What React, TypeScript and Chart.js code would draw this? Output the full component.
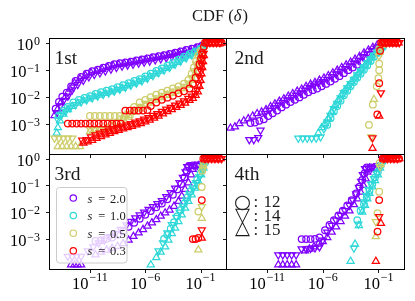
import { useEffect, useRef } from "react";
import { Chart, registerables } from "chart.js";

Chart.register(...registerables);

type Pt = [number, number]; // [log10 delta, log10 CDF]

// ---------------- axes ----------------
const X_LOG_MIN = -14.7;
const X_LOG_MAX = 1.3;
const Y_LOG_MIN = -4.13;
const Y_LOG_MAX = 0.175;
const X_TICK_EXPONENTS = [-11, -6, -1];
const Y_TICK_EXPONENTS = [0, -1, -2, -3];

const PANEL_NAMES = ["1st", "2nd", "3rd", "4th"];
const S_VALUES = ["2.0", "1.0", "0.5", "0.3"];
const MARKER_LABELS = ["12", "14", "15"];
const SERIES_COLORS = ["#7f00ff", "#2fd8d8", "#cdcd6a", "#ff0000"];

// ---------------- panel 1 ----------------
const P1_S20_CIRCLE: Pt[] = [[-14.1,-2.45],[-13.8,-2.2],[-13.5,-2.0],[-13.1,-1.85],[-12.7,-1.62],[-12.3,-1.42],[-11.8,-1.27],[-11.3,-1.15],[-10.8,-1.06],[-10.3,-1.0],[-9.8,-0.93],[-9.3,-0.86],[-8.8,-0.8],[-8.3,-0.76],[-7.8,-0.73],[-7.3,-0.7],[-6.8,-0.66],[-6.3,-0.62],[-5.8,-0.58],[-5.3,-0.54],[-4.8,-0.5],[-4.3,-0.46],[-3.8,-0.42],[-3.3,-0.37],[-2.8,-0.32],[-2.3,-0.27],[-1.8,-0.22],[-1.3,-0.17],[-0.9,-0.12],[-0.5,0]];
const P1_S20_DOWN: Pt[] = [[-14.0,-2.6],[-13.7,-2.35],[-13.4,-2.15],[-13.0,-1.98],[-12.6,-1.75],[-12.1,-1.55],[-11.6,-1.4],[-11.1,-1.27],[-10.6,-1.18],[-10.1,-1.12],[-9.6,-1.05],[-9.1,-0.98],[-8.6,-0.92],[-8.1,-0.87],[-7.6,-0.83],[-7.1,-0.8],[-6.6,-0.76],[-6.1,-0.72],[-5.6,-0.68],[-5.1,-0.64],[-4.6,-0.6],[-4.1,-0.56],[-3.6,-0.51],[-3.1,-0.46],[-2.6,-0.41],[-2.1,-0.36],[-1.6,-0.3],[-1.1,-0.23],[-0.7,-0.15]];
const P1_S20_UP: Pt[] = [[-14.2,-2.7],[-13.9,-2.45],[-13.6,-2.2],[-13.2,-2.0],[-12.8,-1.72],[-12.4,-1.5],[-11.9,-1.34],[-11.4,-1.22],[-10.9,-1.12],[-10.4,-1.06],[-9.9,-0.99],[-9.4,-0.92],[-8.9,-0.86],[-8.4,-0.81],[-7.9,-0.78],[-7.4,-0.75],[-6.9,-0.71],[-6.4,-0.67],[-5.9,-0.63],[-5.4,-0.59],[-4.9,-0.55],[-4.4,-0.51],[-3.9,-0.47],[-3.4,-0.42],[-2.9,-0.37],[-2.4,-0.32],[-1.9,-0.27],[-1.4,-0.21],[-1.0,-0.15]];

const P1_S10_CIRCLE: Pt[] = [[-13.8,-2.7],[-13.4,-2.52],[-13.0,-2.38],[-12.5,-2.22],[-12.0,-2.12],[-11.5,-2.05],[-11.0,-1.98],[-10.5,-1.9],[-10.0,-1.84],[-9.5,-1.78],[-9.0,-1.72],[-8.5,-1.65],[-8.0,-1.58],[-7.5,-1.5],[-7.0,-1.42],[-6.5,-1.35],[-6.0,-1.25],[-5.5,-1.15],[-5.0,-1.05],[-4.5,-0.95],[-4.0,-0.85],[-3.5,-0.75],[-3.0,-0.63],[-2.5,-0.52],[-2.0,-0.42],[-1.5,-0.32],[-1.0,-0.22],[-0.7,-0.12]];
const P1_S10_DOWN: Pt[] = [[-13.9,-2.85],[-13.6,-2.7],[-13.2,-2.55],[-12.8,-2.42],[-12.3,-2.3],[-11.8,-2.2],[-11.3,-2.12],[-10.8,-2.05],[-10.3,-1.98],[-9.8,-1.92],[-9.3,-1.86],[-8.8,-1.8],[-8.3,-1.73],[-7.8,-1.66],[-7.3,-1.58],[-6.8,-1.5],[-6.3,-1.42],[-5.8,-1.32],[-5.3,-1.22],[-4.8,-1.12],[-4.3,-1.02],[-3.8,-0.92],[-3.3,-0.8],[-2.8,-0.68],[-2.3,-0.56],[-1.8,-0.45],[-1.3,-0.34],[-0.9,-0.22]];
const P1_S10_UP: Pt[] = [[-14.0,-3.35],[-13.9,-3.15],[-13.7,-2.9],[-13.4,-2.65],[-13.0,-2.48],[-12.6,-2.36],[-12.1,-2.24],[-11.6,-2.15],[-11.1,-2.08],[-10.6,-2.0],[-10.1,-1.94],[-9.6,-1.88],[-9.1,-1.82],[-8.6,-1.75],[-8.1,-1.68],[-7.6,-1.6],[-7.1,-1.52],[-6.6,-1.44],[-6.1,-1.35],[-5.6,-1.25],[-5.1,-1.15],[-4.6,-1.05],[-4.1,-0.95],[-3.6,-0.85],[-3.1,-0.73],[-2.6,-0.6],[-2.1,-0.49],[-1.6,-0.38],[-1.1,-0.28],[-0.8,-0.18]];

const P1_S05_CIRCLE: Pt[] = [[-11.0,-2.72],[-10.55,-2.72],[-10.1,-2.72],[-9.65,-2.72],[-9.2,-2.72],[-8.75,-2.72],[-8.3,-2.72],[-7.85,-2.72],[-7.4,-2.72],[-7.0,-2.38],[-6.5,-2.22],[-6.0,-2.12],[-5.5,-2.02],[-5.0,-1.93],[-4.5,-1.85],[-4.0,-1.78],[-3.5,-1.7],[-3.0,-1.62],[-2.5,-1.52],[-2.1,-1.38],[-1.8,-1.15],[-1.6,-0.92],[-1.4,-0.68],[-1.2,-0.48],[-0.95,-0.3],[-0.7,-0.15]];
const P1_S05_DOWN: Pt[] = [[-14.2,-3.54],[-13.8,-3.54],[-13.4,-3.54],[-13.0,-3.54],[-12.6,-3.54],[-11.0,-3.2],[-10.6,-3.2],[-10.2,-3.2],[-9.8,-3.2],[-9.4,-3.2],[-9.0,-3.18],[-8.6,-3.1],[-8.0,-2.8],[-7.5,-2.62],[-7.0,-2.48],[-6.5,-2.36],[-6.0,-2.25],[-5.5,-2.15],[-5.0,-2.05],[-4.5,-1.96],[-4.0,-1.88],[-3.5,-1.8],[-3.0,-1.72],[-2.5,-1.62],[-2.1,-1.5],[-1.8,-1.3],[-1.6,-1.05],[-1.4,-0.8],[-1.2,-0.55],[-1.0,-0.35]];
const P1_S05_UP: Pt[] = [[-13.9,-3.85],[-13.5,-3.85],[-13.1,-3.85],[-12.7,-3.85],[-12.3,-3.85],[-11.9,-3.85],[-11.0,-3.3],[-10.5,-3.25],[-10.0,-3.2],[-9.5,-3.15],[-9.0,-3.08],[-8.5,-2.95],[-8.0,-2.82],[-7.5,-2.7],[-7.0,-2.57],[-6.5,-2.45],[-6.0,-2.34],[-5.5,-2.24],[-5.0,-2.13],[-4.5,-2.04],[-4.0,-1.95],[-3.5,-1.88],[-3.0,-1.8],[-2.5,-1.7],[-2.0,-1.58],[-1.7,-1.4],[-1.5,-1.15],[-1.3,-0.9],[-1.1,-0.62],[-0.9,-0.4]];

const P1_S03_CIRCLE: Pt[] = [[-13.0,-3.0],[-12.6,-3.0],[-12.2,-3.0],[-11.8,-3.0],[-11.4,-3.0],[-11.0,-3.0],[-10.6,-3.0],[-10.2,-3.0],[-9.8,-3.0],[-9.4,-3.0],[-9.0,-3.0],[-8.6,-3.0],[-8.2,-3.0],[-7.8,-2.52],[-7.4,-2.52],[-7.0,-2.52],[-6.6,-2.52],[-6.2,-2.52],[-5.8,-2.5],[-5.5,-2.35],[-5.0,-2.22],[-4.5,-2.12],[-4.0,-2.04],[-3.5,-1.97],[-3.0,-1.88],[-2.5,-1.8],[-2.0,-1.7],[-1.7,-1.52],[-1.45,-1.3],[-1.25,-1.05],[-1.1,-0.8],[-0.95,-0.58],[-0.85,-0.38],[-0.7,-0.15],[-0.6,0],[-0.3,0],[0.0,0],[0.3,0],[0.6,0],[0.9,0]];
const P1_S03_DOWN: Pt[] = [[-11.7,-3.62],[-11.3,-3.6],[-10.9,-3.5],[-10.5,-3.42],[-10.1,-3.36],[-9.7,-3.3],[-9.3,-3.25],[-8.9,-3.2],[-8.5,-3.15],[-8.1,-3.1],[-7.7,-3.05],[-7.3,-3.0],[-6.9,-2.95],[-6.5,-2.9],[-6.1,-2.84],[-5.7,-2.78],[-5.3,-2.7],[-4.9,-2.63],[-4.5,-2.55],[-4.1,-2.47],[-3.7,-2.4],[-3.3,-2.32],[-2.9,-2.24],[-2.5,-2.16],[-2.1,-2.07],[-1.8,-1.98],[-1.5,-1.88],[-1.3,-1.75],[-1.15,-1.55],[-1.05,-1.3],[-0.95,-1.05],[-0.88,-0.82],[-0.8,-0.6],[-0.72,-0.4],[-0.45,0],[-0.15,0],[0.15,0],[0.45,0],[0.75,0]];
const P1_S03_UP: Pt[] = [[-11.6,-3.72],[-11.2,-3.68],[-10.8,-3.62],[-10.4,-3.55],[-10.0,-3.48],[-9.6,-3.42],[-9.2,-3.36],[-8.8,-3.3],[-8.4,-3.25],[-8.0,-3.2],[-7.6,-3.15],[-7.2,-3.1],[-6.8,-3.05],[-6.4,-3.0],[-6.0,-2.94],[-5.6,-2.87],[-5.2,-2.8],[-4.8,-2.72],[-4.4,-2.64],[-4.0,-2.56],[-3.6,-2.48],[-3.2,-2.4],[-2.8,-2.32],[-2.4,-2.24],[-2.0,-2.14],[-1.7,-2.06],[-1.45,-1.95],[-1.25,-1.82],[-1.1,-1.62],[-1.0,-1.4],[-0.92,-1.15],[-0.85,-0.92],[-0.78,-0.7],[-0.7,-0.48],[-0.55,0],[-0.25,0],[0.05,0],[0.35,0],[0.65,0],[0.9,0]];

// ---------------- panel 2 ----------------
const P2_S20_CIRCLE: Pt[] = [[-12.5,-2.98],[-12.1,-2.96],[-11.7,-2.9],[-11.3,-2.84],[-10.9,-2.72],[-10.5,-2.62],[-10.1,-2.52],[-9.7,-2.4],[-9.3,-2.3],[-8.9,-2.2],[-8.5,-2.12],[-8.1,-2.03],[-7.7,-1.93],[-7.3,-1.84],[-6.9,-1.76],[-6.5,-1.7],[-6.1,-1.62],[-5.7,-1.53],[-5.3,-1.44],[-4.9,-1.34],[-4.5,-1.24],[-4.1,-1.13],[-3.7,-1.02],[-3.3,-0.92],[-2.9,-0.82],[-2.5,-0.72],[-2.1,-0.58],[-1.7,-0.44],[-1.3,-0.32],[-1.0,-0.2],[-0.7,-0.1]];
const P2_S20_DOWN: Pt[] = [[-12.6,-3.6],[-12.2,-3.6],[-11.8,-3.52],[-11.6,-3.25],[-11.2,-2.62],[-10.8,-2.5],[-10.4,-2.42],[-10.0,-2.32],[-9.6,-2.22],[-9.2,-2.12],[-8.8,-2.03],[-8.4,-1.95],[-8.0,-1.86],[-7.6,-1.76],[-7.2,-1.66],[-6.8,-1.58],[-6.4,-1.5],[-6.0,-1.45],[-5.6,-1.36],[-5.2,-1.26],[-4.8,-1.16],[-4.4,-1.06],[-4.0,-0.96],[-3.6,-0.86],[-3.2,-0.76],[-2.8,-0.65],[-2.4,-0.52],[-2.0,-0.42],[-1.6,-0.3],[-1.2,-0.2],[-0.9,-0.14]];
const P2_S20_UP: Pt[] = [[-14.3,-3.17],[-13.9,-3.12],[-13.5,-3.0],[-13.1,-2.9],[-12.7,-2.82],[-12.3,-2.72],[-11.9,-2.63],[-11.5,-2.57],[-11.1,-2.48],[-10.7,-2.37],[-10.3,-2.27],[-9.9,-2.17],[-9.5,-2.08],[-9.1,-1.98],[-8.7,-1.89],[-8.3,-1.8],[-7.9,-1.72],[-7.5,-1.62],[-7.1,-1.54],[-6.7,-1.47],[-6.3,-1.39],[-5.9,-1.31],[-5.5,-1.22],[-5.1,-1.12],[-4.7,-1.02],[-4.3,-0.92],[-3.9,-0.82],[-3.5,-0.72],[-3.1,-0.61],[-2.7,-0.51],[-2.3,-0.38],[-1.9,-0.27],[-1.5,-0.17],[-1.1,-0.08]];

const P2_S10_CIRCLE: Pt[] = [[-5.6,-3.05],[-5.3,-2.8],[-5.0,-2.55],[-4.7,-2.35],[-4.4,-2.15],[-4.1,-1.95],[-3.8,-1.78],[-3.5,-1.62],[-3.2,-1.46],[-2.9,-1.3],[-2.6,-1.15],[-2.3,-1.0],[-2.0,-0.85],[-1.7,-0.68],[-1.4,-0.52],[-1.1,-0.38],[-0.8,-0.25],[-0.6,-0.15]];
const P2_S10_DOWN: Pt[] = [[-8.2,-3.54],[-7.8,-3.54],[-7.4,-3.54],[-7.0,-3.54],[-6.6,-3.54],[-6.2,-3.5],[-5.9,-3.2],[-5.6,-2.95],[-5.3,-2.7],[-5.0,-2.45],[-4.7,-2.25],[-4.4,-2.05],[-4.1,-1.85],[-3.8,-1.68],[-3.5,-1.52],[-3.2,-1.36],[-2.9,-1.2],[-2.6,-1.05],[-2.3,-0.9],[-2.0,-0.75],[-1.7,-0.6],[-1.4,-0.46],[-1.1,-0.34],[-0.8,-0.22]];
const P2_S10_UP: Pt[] = [[-6.4,-3.35],[-6.1,-3.15],[-5.8,-3.0],[-5.5,-2.8],[-5.2,-2.55],[-4.9,-2.32],[-4.6,-2.12],[-4.3,-1.92],[-4.0,-1.76],[-3.7,-1.6],[-3.4,-1.44],[-3.1,-1.28],[-2.8,-1.13],[-2.5,-0.98],[-2.2,-0.83],[-1.9,-0.68],[-1.6,-0.54],[-1.3,-0.4],[-1.0,-0.28],[-0.7,-0.17]];

const P2_S05_CIRCLE: Pt[] = [[-1.85,-3.05],[-1.5,-2.3],[-1.15,-1.62],[-1.0,-1.32],[-0.93,-1.02],[-0.93,-0.78],[-0.93,-0.22],[-0.6,-0.05]];
const P2_S05_DOWN: Pt[] = [[-1.65,-3.5],[-0.95,-0.5],[-0.7,-0.1]];
const P2_S05_UP: Pt[] = [[-1.4,-2.1],[-0.9,-0.35],[-0.6,-0.08]];

const P2_S03_CIRCLE: Pt[] = [[-1.1,-2.66],[-0.93,-1.5],[-0.85,-0.3],[-0.75,0],[-0.45,0],[-0.15,0],[0.15,0],[0.45,0],[0.75,0]];
const P2_S03_DOWN: Pt[] = [[-1.53,-3.53],[-0.78,-1.86],[-0.6,0],[-0.3,0],[0.0,0],[0.3,0],[0.6,0],[0.88,0]];
const P2_S03_UP: Pt[] = [[-1.53,-3.92],[-0.93,-2.72],[-0.68,0],[-0.38,0],[-0.08,0],[0.22,0],[0.52,0],[0.82,0]];

// ---------------- panel 3 ----------------
const P3_S20_CIRCLE: Pt[] = [[-10.5,-3.08],[-10.0,-3.05],[-9.5,-3.0],[-9.0,-2.95],[-8.5,-2.85],[-8.0,-2.72],[-7.5,-2.55],[-7.0,-2.4],[-6.5,-2.25],[-6.0,-2.1],[-5.5,-1.96],[-5.0,-1.82],[-4.5,-1.68],[-4.0,-1.52],[-3.5,-1.35],[-3.1,-1.15],[-2.75,-0.95],[-2.45,-0.7],[-2.25,-0.45],[-2.05,-0.27],[-1.7,-0.25],[-1.4,-0.25],[-1.1,-0.24],[-0.5,0]];
const P3_S20_DOWN: Pt[] = [[-13.0,-3.66],[-12.6,-3.66],[-12.2,-3.66],[-11.8,-3.66],[-11.2,-3.45],[-10.7,-3.3],[-10.2,-3.15],[-9.7,-3.05],[-9.2,-2.92],[-8.7,-2.8],[-8.2,-2.65],[-7.7,-2.48],[-7.3,-2.35],[-6.9,-2.22],[-6.5,-2.11],[-6.1,-2.0],[-5.7,-1.9],[-5.3,-1.8],[-4.9,-1.68],[-4.5,-1.57],[-4.1,-1.42],[-3.7,-1.27],[-3.3,-1.1],[-2.9,-0.9],[-2.6,-0.7],[-2.35,-0.5],[-2.2,-0.3],[-1.9,-0.25],[-1.6,-0.25],[-1.3,-0.25],[-0.6,0]];
const P3_S20_UP: Pt[] = [[-12.7,-3.97],[-12.4,-3.97],[-12.1,-3.97],[-11.8,-3.97],[-10.5,-3.6],[-10.0,-3.5],[-9.5,-3.42],[-9.0,-3.35],[-8.5,-3.28],[-8.0,-3.18],[-7.5,-3.05],[-7.07,-2.91],[-6.6,-2.78],[-6.2,-2.65],[-5.8,-2.52],[-5.4,-2.4],[-5.0,-2.28],[-4.6,-2.15],[-4.2,-2.03],[-3.8,-1.92],[-3.4,-1.78],[-3.0,-1.6],[-2.7,-1.4],[-2.4,-1.15],[-2.1,-0.9],[-1.85,-0.6],[-1.7,-0.4],[-1.5,-0.28],[-1.2,-0.26],[-0.4,0]];

const P3_S10_CIRCLE: Pt[] = [[-4.3,-3.0],[-4.0,-2.85],[-3.7,-2.62],[-3.4,-2.38],[-3.1,-2.15],[-2.8,-1.92],[-2.5,-1.68],[-2.2,-1.45],[-1.9,-1.22],[-1.6,-1.0],[-1.3,-0.78],[-1.0,-0.55],[-0.8,-0.3],[-0.6,-0.15]];
const P3_S10_DOWN: Pt[] = [[-4.8,-3.45],[-4.4,-3.15],[-4.0,-2.78],[-3.6,-2.47],[-3.2,-2.2],[-2.9,-2.0],[-2.6,-1.78],[-2.3,-1.55],[-2.0,-1.32],[-1.7,-1.1],[-1.4,-0.9],[-1.1,-0.68],[-0.85,-0.45],[-0.7,-0.25]];
const P3_S10_UP: Pt[] = [[-5.5,-3.97],[-5.0,-3.7],[-4.6,-3.5],[-4.2,-3.3],[-3.9,-3.05],[-3.6,-2.8],[-3.3,-2.6],[-3.0,-2.35],[-2.7,-2.1],[-2.4,-1.85],[-2.1,-1.6],[-1.8,-1.35],[-1.5,-1.1],[-1.2,-0.85],[-0.95,-0.6],[-0.75,-0.35]];

const P3_S05_CIRCLE: Pt[] = [[-1.2,-1.98],[-0.89,-1.06],[-0.85,-0.45],[-0.7,-0.15]];
const P3_S05_DOWN: Pt[] = [[-0.89,-1.8],[-0.8,-0.35]];
const P3_S05_UP: Pt[] = [[-1.2,-3.41],[-0.89,-2.23],[-0.75,-0.28]];

const P3_S03_CIRCLE: Pt[] = [[-1.7,-3.01],[-1.45,-3.01],[-1.2,-2.97],[-0.89,-1.55],[-0.75,0],[-0.45,0],[-0.15,0],[0.15,0],[0.45,0],[0.75,0]];
const P3_S03_DOWN: Pt[] = [[-0.89,-2.67],[-0.6,0],[-0.3,0],[0.0,0],[0.3,0],[0.6,0],[0.9,0]];
const P3_S03_UP: Pt[] = [[-0.89,-2.97],[-0.68,0],[-0.38,0],[-0.08,0],[0.22,0],[0.52,0],[0.82,0]];

// ---------------- panel 4 ----------------
const P4_S20_CIRCLE: Pt[] = [[-7.9,-3.01],[-7.5,-3.01],[-7.1,-3.01],[-6.7,-3.0],[-6.3,-2.95],[-5.8,-2.68],[-5.4,-2.48],[-5.0,-2.3],[-4.6,-2.12],[-4.2,-1.95],[-3.8,-1.75],[-3.4,-1.55],[-3.0,-1.3],[-2.7,-1.05],[-2.45,-0.8],[-2.25,-0.55],[-2.05,-0.33],[-1.7,-0.33],[-1.3,-0.31],[-0.5,0]];
const P4_S20_DOWN: Pt[] = [[-10.0,-3.6],[-9.6,-3.6],[-9.2,-3.6],[-8.8,-3.6],[-8.4,-3.6],[-7.9,-3.38],[-7.5,-3.38],[-7.1,-3.36],[-6.7,-3.34],[-6.3,-3.3],[-6.0,-3.05],[-5.6,-2.75],[-5.2,-2.5],[-4.8,-2.3],[-4.4,-2.12],[-4.0,-1.95],[-3.6,-1.75],[-3.3,-1.55],[-3.0,-1.32],[-2.75,-1.08],[-2.55,-0.85],[-2.4,-0.6],[-2.2,-0.37],[-1.9,-0.35],[-1.6,-0.35],[-0.6,0]];
const P4_S20_UP: Pt[] = [[-10.0,-3.97],[-9.6,-3.97],[-9.2,-3.97],[-8.8,-3.97],[-8.4,-3.97],[-7.6,-3.45],[-7.2,-3.38],[-6.8,-3.3],[-6.4,-3.2],[-6.0,-3.1],[-5.6,-2.95],[-5.2,-2.75],[-4.8,-2.55],[-4.4,-2.35],[-4.0,-2.15],[-3.6,-1.95],[-3.2,-1.72],[-2.9,-1.5],[-2.6,-1.25],[-2.35,-1.0],[-2.15,-0.75],[-2.0,-0.5],[-1.8,-0.35],[-1.4,-0.35],[-1.1,-0.33],[-0.4,0]];

const P4_S10_CIRCLE: Pt[] = [[-2.9,-2.3],[-2.6,-1.95],[-2.3,-1.7],[-2.05,-1.45],[-1.8,-1.2],[-1.55,-0.95],[-1.3,-0.7],[-1.05,-0.5],[-0.8,-0.25],[-0.6,-0.1]];
const P4_S10_DOWN: Pt[] = [[-3.2,-3.35],[-2.8,-2.45],[-2.5,-1.9],[-2.3,-1.62],[-2.1,-1.38],[-1.9,-1.15],[-1.65,-0.95],[-1.4,-0.75],[-1.15,-0.55],[-0.9,-0.3]];
const P4_S10_UP: Pt[] = [[-3.5,-3.84],[-3.1,-3.2],[-2.75,-2.5],[-2.45,-2.0],[-2.2,-1.75],[-2.0,-1.5],[-1.8,-1.3],[-1.55,-1.05],[-1.3,-0.82],[-1.05,-0.6],[-0.85,-0.35]];

const P4_S05_CIRCLE: Pt[] = [[-1.08,-2.04],[-0.93,-1.24],[-0.9,-0.17]];
const P4_S05_DOWN: Pt[] = [[-1.23,-2.36],[-0.85,-0.3]];
const P4_S05_UP: Pt[] = [[-1.23,-2.92],[-0.8,-0.22]];

const P4_S03_CIRCLE: Pt[] = [[-1.08,-2.73],[-0.93,-1.55],[-0.62,0],[-0.32,0],[-0.02,0],[0.28,0],[0.58,0],[0.86,0]];
const P4_S03_DOWN: Pt[] = [[-0.93,-2.17],[-0.5,0],[-0.2,0],[0.1,0],[0.4,0],[0.7,0]];
const P4_S03_UP: Pt[] = [[-1.23,-3.84],[-0.77,-2.42],[-0.56,0],[-0.26,0],[0.04,0],[0.34,0],[0.64,0],[0.88,0]];

const PANEL_SERIES: Pt[][][][] = [
  [[P1_S20_CIRCLE, P1_S20_DOWN, P1_S20_UP], [P1_S10_CIRCLE, P1_S10_DOWN, P1_S10_UP], [P1_S05_CIRCLE, P1_S05_DOWN, P1_S05_UP], [P1_S03_CIRCLE, P1_S03_DOWN, P1_S03_UP]],
  [[P2_S20_CIRCLE, P2_S20_DOWN, P2_S20_UP], [P2_S10_CIRCLE, P2_S10_DOWN, P2_S10_UP], [P2_S05_CIRCLE, P2_S05_DOWN, P2_S05_UP], [P2_S03_CIRCLE, P2_S03_DOWN, P2_S03_UP]],
  [[P3_S20_CIRCLE, P3_S20_DOWN, P3_S20_UP], [P3_S10_CIRCLE, P3_S10_DOWN, P3_S10_UP], [P3_S05_CIRCLE, P3_S05_DOWN, P3_S05_UP], [P3_S03_CIRCLE, P3_S03_DOWN, P3_S03_UP]],
  [[P4_S20_CIRCLE, P4_S20_DOWN, P4_S20_UP], [P4_S10_CIRCLE, P4_S10_DOWN, P4_S10_UP], [P4_S05_CIRCLE, P4_S05_DOWN, P4_S05_UP], [P4_S03_CIRCLE, P4_S03_DOWN, P4_S03_UP]],
];

// ---------------- layout ----------------
const W = 415;
const H = 301;
const RECTS = [
  { l: 49, t: 38, r: 226, b: 154 },
  { l: 226, t: 38, r: 404, b: 154 },
  { l: 49, t: 154, r: 226, b: 269 },
  { l: 226, t: 154, r: 404, b: 269 },
];
const SERIF = '"Liberation Serif", "DejaVu Serif", serif';
const INK = "#000000";
const TEXT_INK = "#1a1a1a";

function sciLabel(ctx: CanvasRenderingContext2D, exp: number, x: number, baseline: number, supRaise: number, align: "center" | "right") {
  const main = "10";
  const sup = exp < 0 ? "\u2212" + Math.abs(exp) : String(exp);
  ctx.font = `16.5px ${SERIF}`;
  const w1 = ctx.measureText(main).width;
  ctx.font = `12px ${SERIF}`;
  const w2 = ctx.measureText(sup).width;
  const gap = 0.8;
  const total = w1 + gap + w2;
  const x0 = align === "center" ? x - total / 2 : x - total;
  ctx.textAlign = "left";
  ctx.textBaseline = "alphabetic";
  ctx.fillStyle = INK;
  ctx.font = `16.5px ${SERIF}`;
  ctx.fillText(main, x0, baseline);
  ctx.font = `12px ${SERIF}`;
  ctx.fillText(sup, x0 + w1 + gap, baseline - supRaise);
}

function fittedGlyph(ctx: CanvasRenderingContext2D, ch: string, left: number, top: number, width: number) {
  ctx.textAlign = "left";
  ctx.textBaseline = "alphabetic";
  ctx.font = `100px "DejaVu Sans"`;
  const m = ctx.measureText(ch);
  const inkW = m.actualBoundingBoxLeft + m.actualBoundingBoxRight;
  const fs = (100 * width) / inkW;
  ctx.font = `${fs}px "DejaVu Sans"`;
  const m2 = ctx.measureText(ch);
  ctx.fillText(ch, left + m2.actualBoundingBoxLeft, top + m2.actualBoundingBoxAscent);
}

function makeOverlay(index: number) {
  return {
    id: "overlay" + index,
    afterDraw(chart: any) {
      const ctx: CanvasRenderingContext2D = chart.ctx;
      const { left, top, right, bottom } = chart.chartArea;
      const xs = chart.scales.x;
      const ys = chart.scales.y;
      ctx.save();
      // frame
      ctx.strokeStyle = INK;
      ctx.lineWidth = 1;
      ctx.strokeRect(left + 0.5, top + 0.5, right - left, bottom - top);
      // ticks
      ctx.lineWidth = 0.9;
      ctx.beginPath();
      for (const e of X_TICK_EXPONENTS) {
        const px = Math.round(xs.getPixelForValue(Math.pow(10, e))) + 0.5;
        ctx.moveTo(px, bottom + 0.5);
        ctx.lineTo(px, bottom + 4);
      }
      for (const e of Y_TICK_EXPONENTS) {
        const py = Math.round(ys.getPixelForValue(Math.pow(10, e))) + 0.5;
        ctx.moveTo(left + 0.5, py);
        ctx.lineTo(left - 3, py);
      }
      ctx.stroke();
      // tick labels
      if (index >= 2) {
        for (const e of X_TICK_EXPONENTS) {
          const px = xs.getPixelForValue(Math.pow(10, e));
          sciLabel(ctx, e, px, bottom + 19.7, 7.4, "center");
        }
      }
      if (index % 2 === 0) {
        for (const e of Y_TICK_EXPONENTS) {
          const py = ys.getPixelForValue(Math.pow(10, e));
          sciLabel(ctx, e, left - 9, py + 7.3, 5.3, "right");
        }
      }
      // panel name
      ctx.fillStyle = TEXT_INK;
      ctx.font = `19.5px ${SERIF}`;
      ctx.textAlign = "left";
      ctx.textBaseline = "alphabetic";
      const nameX = index % 2 === 0 ? left + 5.5 : left + 8.5;
      ctx.fillText(PANEL_NAMES[index], nameX, top + 25.5);

      if (index === 0) {
        // figure title
        ctx.fillStyle = TEXT_INK;
        const parts: [string, string][] = [["CDF (", "normal"], ["\u03b4", "italic"], [")", "normal"]];
        let total = 0;
        const widths: number[] = [];
        for (const [t, st] of parts) {
          ctx.font = `${st} 16.5px ${SERIF}`;
          const w = ctx.measureText(t).width;
          widths.push(w);
          total += w + (st === "italic" ? 1 : 0);
        }
        let x = 220 - total / 2;
        parts.forEach(([t, st], i) => {
          ctx.font = `${st} 16.5px ${SERIF}`;
          ctx.fillText(t, x, 20.7);
          x += widths[i] + (st === "italic" ? 1 : 0);
        });
      }

      if (index === 2) {
        // legend
        const bx = left + 7.5, by = top + 33.5, bw = 70.5, bh = 75.5;
        ctx.beginPath();
        (ctx as any).roundRect(bx, by, bw, bh, 3);
        ctx.fillStyle = "rgba(255,255,255,0.8)";
        ctx.fill();
        ctx.strokeStyle = "#cccccc";
        ctx.lineWidth = 1;
        ctx.stroke();
        S_VALUES.forEach((s, i) => {
          const ry = top + 44 + i * 17.6;
          ctx.beginPath();
          ctx.arc(left + 24.3, ry, 3.2, 0, Math.PI * 2);
          ctx.strokeStyle = SERIES_COLORS[i];
          ctx.lineWidth = 1.2;
          ctx.stroke();
          ctx.fillStyle = TEXT_INK;
          ctx.textAlign = "left";
          ctx.font = `italic 12.5px ${SERIF}`;
          ctx.fillText("s", left + 38.5, ry + 4.5);
          ctx.font = `12.5px ${SERIF}`;
          ctx.textAlign = "center";
          ctx.fillText("=", left + 52.7, ry + 4.5);
          ctx.textAlign = "left";
          ctx.fillText(s, left + 61, ry + 4.5);
        });
      }

      if (index === 3) {
        // marker key
        ctx.fillStyle = TEXT_INK;
        fittedGlyph(ctx, "\u25cb", left + 9, top + 40.5, 15);
        fittedGlyph(ctx, "\u25bd", left + 9, top + 53.5, 15);
        fittedGlyph(ctx, "\u25b3", left + 9, top + 66.5, 15);
        ctx.font = `17px ${SERIF}`;
        ctx.textAlign = "left";
        MARKER_LABELS.forEach((lab, i) => {
          const yb = top + 52.7 + i * 14.3;
          ctx.fillText(":", left + 27.6, yb);
          ctx.fillText(lab, left + 37.5, yb);
        });
      }
      ctx.restore();
    },
  };
}

function buildDatasets(panel: number) {
  const out: any[] = [];
  PANEL_SERIES[panel].forEach((markers, ci) => {
    markers.forEach((pts, mi) => {
      const drawIndex = ci * 3 + mi;
      out.push({
        label: `s = ${S_VALUES[ci]}, ${MARKER_LABELS[mi]}`,
        data: pts.map(([lx, ly]) => ({ x: Math.pow(10, lx), y: Math.pow(10, ly) })),
        showLine: false,
        pointStyle: mi === 0 ? "circle" : "triangle",
        pointRotation: mi === 1 ? 180 : 0,
        pointRadius: mi === 0 ? 3.3 : 4.1,
        pointBorderWidth: 1.25,
        pointBorderColor: SERIES_COLORS[ci],
        pointBackgroundColor: "rgba(0,0,0,0)",
        borderColor: SERIES_COLORS[ci],
        backgroundColor: "rgba(0,0,0,0)",
        order: 100 - drawIndex,
        clip: 0,
      });
    });
  });
  return out;
}

function Panel({ index }: { index: number }) {
  const ref = useRef<HTMLCanvasElement>(null);
  useEffect(() => {
    const canvas = ref.current;
    if (!canvas) return;
    const r = RECTS[index];
    const chart = new Chart(canvas, {
      type: "scatter",
      data: { datasets: buildDatasets(index) },
      options: {
        animation: false,
        responsive: false,
        devicePixelRatio: 1,
        events: [],
        layout: { padding: { left: r.l, top: r.t, right: W - r.r, bottom: H - r.b } },
        plugins: { legend: { display: false }, tooltip: { enabled: false }, title: { display: false } },
        scales: {
          x: { type: "logarithmic", display: false, bounds: "data", min: Math.pow(10, X_LOG_MIN), max: Math.pow(10, X_LOG_MAX) },
          y: { type: "logarithmic", display: false, bounds: "data", min: Math.pow(10, Y_LOG_MIN), max: Math.pow(10, Y_LOG_MAX) },
        },
      } as any,
      plugins: [makeOverlay(index)],
    });
    return () => chart.destroy();
  }, [index]);
  return <canvas ref={ref} width={W} height={H} style={{ position: "absolute", left: 0, top: 0, width: W, height: H }} />;
}

export default function App() {
  return (
    <div style={{ position: "fixed", left: 0, top: 0, width: W, height: H, background: "#ffffff" }}>
      {[0, 1, 2, 3].map((i) => (
        <Panel key={i} index={i} />
      ))}
    </div>
  );
}
